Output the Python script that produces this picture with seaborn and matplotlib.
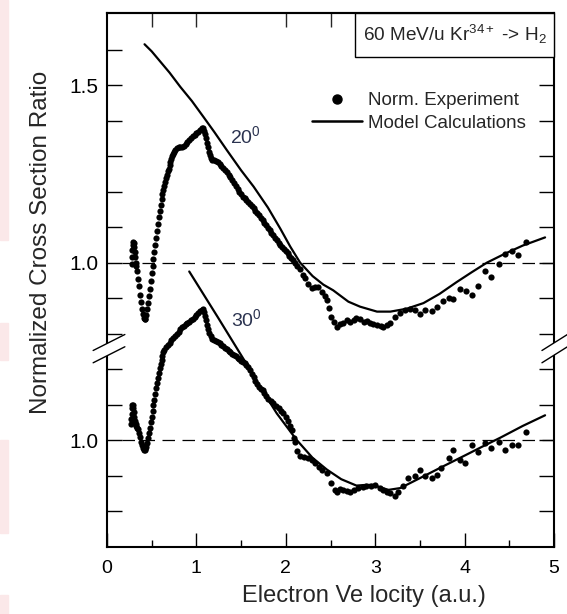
import numpy as np
import pandas as pd
import seaborn as sns
import matplotlib.pyplot as plt
from matplotlib.lines import Line2D
from matplotlib.patches import Rectangle, Polygon
import matplotlib.ticker as mticker

# 30 deg curves are drawn shifted down by this amount (broken axis)
OFFSET = 0.5

# --- experiment, 20 deg ---
exp20_x = [0.275, 0.28, 0.285, 0.29, 0.295, 0.30, 0.305, 0.31, 0.315, 0.32, 0.33, 0.34,
           0.35, 0.36, 0.37, 0.38, 0.39, 0.40, 0.41, 0.42, 0.43, 0.44, 0.45, 0.46,
           0.47, 0.48, 0.49, 0.50, 0.51, 0.52, 0.53, 0.54, 0.55, 0.56, 0.57, 0.58,
           0.59, 0.60, 0.61, 0.62, 0.63, 0.64, 0.65, 0.66, 0.67, 0.68, 0.69, 0.70,
           0.71, 0.72, 0.73, 0.74, 0.75, 0.76, 0.78, 0.80, 0.82, 0.84, 0.86, 0.88,
           0.90, 0.92, 0.94, 0.96, 0.98, 1.00, 1.02, 1.04, 1.06, 1.075, 1.09, 1.10,
           1.11, 1.12, 1.13, 1.14, 1.15, 1.165, 1.18, 1.20, 1.22, 1.24, 1.26, 1.28,
           1.30, 1.32, 1.34, 1.36, 1.38, 1.40, 1.42, 1.44, 1.46, 1.48, 1.50, 1.52,
           1.54, 1.56, 1.58, 1.60, 1.62, 1.64, 1.66, 1.68, 1.70, 1.72, 1.74, 1.76,
           1.78, 1.80, 1.82, 1.84, 1.86, 1.88, 1.90, 1.92, 1.94, 1.96, 1.98, 2.00,
           2.02, 2.04, 2.06, 2.08, 2.10, 2.13, 2.16, 2.19, 2.21, 2.25, 2.29, 2.33,
           2.36, 2.40, 2.44, 2.46, 2.48, 2.51, 2.54, 2.57, 2.61, 2.64, 2.68, 2.72,
           2.76, 2.79, 2.83, 2.87, 2.91, 2.94, 2.98, 3.02, 3.06, 3.09, 3.13, 3.17,
           3.22, 3.28, 3.33, 3.39, 3.45, 3.50, 3.56, 3.63, 3.69, 3.76, 3.82, 3.87,
           3.95, 4.02, 4.08, 4.15, 4.23, 4.30, 4.38, 4.45, 4.53, 4.60, 4.69]
exp20_y = [0.995, 1.015, 1.035, 1.050, 1.058, 1.055, 1.045, 1.030, 1.015, 1.000, 0.990, 0.975,
           0.955, 0.935, 0.910, 0.890, 0.870, 0.855, 0.845, 0.840, 0.842, 0.852, 0.868, 0.885,
           0.905, 0.925, 0.948, 0.970, 0.990, 1.010, 1.030, 1.050, 1.070, 1.090, 1.110, 1.128,
           1.146, 1.163, 1.178, 1.192, 1.205, 1.217, 1.228, 1.238, 1.248, 1.257, 1.265, 1.274,
           1.283, 1.291, 1.299, 1.306, 1.312, 1.318, 1.323, 1.326, 1.327, 1.326, 1.328, 1.334,
           1.339, 1.344, 1.350, 1.356, 1.360, 1.364, 1.368, 1.373, 1.378, 1.380, 1.372, 1.362,
           1.350, 1.338, 1.325, 1.312, 1.302, 1.295, 1.290, 1.288, 1.285, 1.282, 1.278, 1.272,
           1.266, 1.260, 1.254, 1.247, 1.240, 1.232, 1.224, 1.215, 1.206, 1.198, 1.192, 1.186,
           1.181, 1.176, 1.171, 1.166, 1.160, 1.153, 1.146, 1.140, 1.133, 1.126, 1.119, 1.112,
           1.105, 1.098, 1.091, 1.084, 1.077, 1.070, 1.063, 1.056, 1.050, 1.044, 1.038, 1.032,
           1.026, 1.020, 1.013, 1.006, 0.998, 0.990, 0.982, 0.965, 0.956, 0.940, 0.928, 0.932,
           0.930, 0.918, 0.905, 0.895, 0.872, 0.848, 0.832, 0.820, 0.828, 0.830, 0.838, 0.834,
           0.838, 0.843, 0.840, 0.834, 0.835, 0.830, 0.828, 0.825, 0.822, 0.820, 0.825, 0.830,
           0.848, 0.857, 0.867, 0.869, 0.867, 0.855, 0.867, 0.865, 0.874, 0.893, 0.900, 0.898,
           0.925, 0.920, 0.909, 0.934, 0.975, 0.959, 0.996, 1.024, 1.034, 1.022, 1.057]

# --- experiment, 30 deg (true values) ---
exp30_x = [0.265, 0.27, 0.275, 0.28, 0.285, 0.29, 0.295, 0.30, 0.305, 0.31, 0.32, 0.33,
           0.34, 0.35, 0.36, 0.37, 0.38, 0.39, 0.40, 0.41, 0.42, 0.43, 0.44, 0.45,
           0.46, 0.47, 0.48, 0.49, 0.50, 0.51, 0.52, 0.53, 0.54, 0.55, 0.56, 0.57,
           0.58, 0.59, 0.60, 0.61, 0.62, 0.63, 0.64, 0.66, 0.68, 0.70, 0.72, 0.74,
           0.76, 0.78, 0.80, 0.82, 0.84, 0.86, 0.88, 0.90, 0.92, 0.94, 0.96, 0.98,
           1.00, 1.02, 1.04, 1.06, 1.075, 1.09, 1.10, 1.11, 1.12, 1.13, 1.14, 1.16,
           1.18, 1.20, 1.22, 1.24, 1.26, 1.28, 1.30, 1.32, 1.34, 1.36, 1.38, 1.40,
           1.42, 1.44, 1.46, 1.48, 1.50, 1.52, 1.54, 1.56, 1.58, 1.60, 1.62, 1.64,
           1.66, 1.68, 1.70, 1.72, 1.74, 1.76, 1.78, 1.80, 1.83, 1.86, 1.89, 1.92,
           1.95, 1.97, 2.00, 2.03, 2.05, 2.07, 2.09, 2.10, 2.13, 2.16, 2.20, 2.25,
           2.29, 2.33, 2.37, 2.40, 2.46, 2.51, 2.55, 2.57, 2.61, 2.64, 2.68, 2.72,
           2.76, 2.81, 2.86, 2.90, 2.95, 3.00, 3.05, 3.09, 3.13, 3.17, 3.22, 3.26,
           3.31, 3.37, 3.45, 3.50, 3.56, 3.63, 3.69, 3.74, 3.82, 3.87, 3.95, 4.00,
           4.08, 4.15, 4.23, 4.30, 4.38, 4.45, 4.53, 4.60, 4.69]
exp30_y = [1.045, 1.060, 1.075, 1.090, 1.100, 1.098, 1.090, 1.080, 1.065, 1.055, 1.045, 1.040,
           1.035, 1.030, 1.020, 1.008, 0.995, 0.985, 0.977, 0.973, 0.972, 0.974, 0.982, 0.993,
           1.005, 1.020, 1.035, 1.050, 1.066, 1.082, 1.098, 1.114, 1.130, 1.146, 1.162, 1.176,
           1.190, 1.203, 1.215, 1.227, 1.238, 1.248, 1.255, 1.262, 1.268, 1.275, 1.281, 1.287,
           1.293, 1.299, 1.305, 1.312, 1.318, 1.322, 1.326, 1.330, 1.333, 1.337, 1.342, 1.347,
           1.352, 1.358, 1.363, 1.367, 1.368, 1.360, 1.350, 1.338, 1.325, 1.313, 1.302, 1.293,
           1.286, 1.282, 1.280, 1.277, 1.273, 1.268, 1.264, 1.260, 1.256, 1.252, 1.248, 1.244,
           1.240, 1.236, 1.232, 1.228, 1.224, 1.221, 1.217, 1.212, 1.205, 1.197, 1.187, 1.177,
           1.166, 1.157, 1.150, 1.145, 1.140, 1.132, 1.123, 1.117, 1.110, 1.104, 1.097, 1.090,
           1.082, 1.076, 1.065, 1.053, 1.040, 1.029, 1.005, 0.995, 0.970, 0.954, 0.952, 0.950,
           0.944, 0.936, 0.925, 0.917, 0.907, 0.879, 0.860, 0.855, 0.862, 0.860, 0.858, 0.855,
           0.860, 0.864, 0.868, 0.870, 0.872, 0.874, 0.866, 0.860, 0.855, 0.850, 0.842, 0.855,
           0.872, 0.893, 0.898, 0.915, 0.898, 0.893, 0.902, 0.921, 0.950, 0.973, 0.945, 0.937,
           0.987, 0.968, 0.993, 0.979, 0.996, 0.971, 0.987, 0.987, 1.024]

# --- model calculations ---
mod20_x = [0.42, 0.50, 0.60, 0.70, 0.82, 0.95, 1.08, 1.20, 1.34, 1.50, 1.64, 1.80,
           1.94, 2.05, 2.16, 2.30, 2.42, 2.53, 2.70, 2.83, 3.02, 3.17, 3.35, 3.54,
           3.72, 3.91, 4.08, 4.25, 4.45, 4.65, 4.90]
mod20_y = [1.615, 1.595, 1.565, 1.535, 1.495, 1.455, 1.410, 1.368, 1.317, 1.260, 1.214, 1.155,
           1.095, 1.045, 1.000, 0.962, 0.938, 0.922, 0.890, 0.876, 0.862, 0.862, 0.870, 0.886,
           0.912, 0.945, 0.973, 1.000, 1.025, 1.048, 1.071]
mod30_x = [0.92, 1.24, 1.56, 1.71, 1.90, 2.12, 2.30, 2.46, 2.62, 2.79, 2.90, 2.98,
           3.08, 3.15, 3.28, 3.50, 3.75, 4.02, 4.20, 4.40, 4.65, 4.90]
mod30_y = [1.475, 1.346, 1.215, 1.151, 1.075, 1.001, 0.950, 0.917, 0.890, 0.872, 0.874, 0.874,
           0.865, 0.860, 0.865, 0.893, 0.925, 0.959, 0.982, 1.007, 1.040, 1.070]

# dashed reference lines at ratio 1.0 for both panels
ref_x = [0.17, 5.0]
ref_levels = [1.0, 1.0 - OFFSET]

ytick_pos = [0.3, 0.4, 0.5, 0.6, 0.7, 0.8, 0.9, 1.0, 1.1, 1.2, 1.3, 1.4, 1.5, 1.6]
ytick_lab = {0.5: "1.0", 1.0: "1.0", 1.5: "1.5"}

exp = pd.concat([
    pd.DataFrame({"v": exp20_x, "r": exp20_y, "angle": "20"}),
    pd.DataFrame({"v": exp30_x, "r": np.array(exp30_y) - OFFSET, "angle": "30"}),
])
mod20 = pd.DataFrame({"v": mod20_x, "r": mod20_y})
mod30 = pd.DataFrame({"v": mod30_x, "r": np.array(mod30_y) - OFFSET})

sns.set_theme(style="ticks")
plt.rcParams["font.family"] = ["Liberation Sans", "DejaVu Sans"]
plt.rcParams["mathtext.fontset"] = "custom"
plt.rcParams["mathtext.rm"] = "Liberation Sans"
plt.rcParams["mathtext.it"] = "Liberation Sans:italic"

fig = plt.figure(figsize=(5.67, 6.14), dpi=100)
ax = fig.add_axes([0.1887, 0.1091, 0.7884, 0.8697])

# faint pink strips at the left edge of the scan
for top, bot in [(0, 240), (323, 360), (440, 533), (595, 614)]:
    fig.patches.append(Rectangle((0, 1 - bot / 614), 8 / 567, (bot - top) / 614,
                                 transform=fig.transFigure, color="#fbe8e9", zorder=0))

for lvl in ref_levels:
    ax.plot(ref_x, [lvl, lvl], color="black", lw=0.9, ls=(0, (10, 6)), zorder=1)

sns.lineplot(data=mod20, x="v", y="r", color="black", lw=1.6, ax=ax, estimator=None)
sns.lineplot(data=mod30, x="v", y="r", color="black", lw=1.6, ax=ax, estimator=None)
sns.scatterplot(data=exp, x="v", y="r", color="black", s=20, linewidth=0, ax=ax,
                legend=False, zorder=3)

ax.set_xlim(0, 5)
ax.set_ylim(0.199, 1.703)
ax.xaxis.set_major_locator(mticker.MultipleLocator(1))
ax.xaxis.set_minor_locator(mticker.MultipleLocator(0.5))
ax.yaxis.set_major_locator(mticker.FixedLocator(ytick_pos))
ax.yaxis.set_major_formatter(mticker.FuncFormatter(
    lambda v, p: ytick_lab.get(round(v, 1), "")))

ax.tick_params(axis="both", which="both", direction="in", colors="black", width=1.0)
ax.tick_params(axis="x", which="major", length=10, pad=9, labelsize=14)
ax.tick_params(axis="x", which="minor", length=5)
ax.tick_params(axis="y", length=11, pad=6, labelsize=15, right=True)
for s in ax.spines.values():
    s.set_linewidth(1.5)
    s.set_color("black")

sec = ax.secondary_xaxis("top")
sec.set_xticks([0.5, 1, 2, 2.5])
sec.tick_params(direction="in", length=10, width=1.0, labeltop=False)
sec.spines["top"].set_linewidth(1.5)

ax.set_xlabel("Electron Ve locity (a.u.)", fontsize=17)
ax.set_ylabel("Normalized Cross Section Ratio", fontsize=17.5)
ax.xaxis.set_label_coords(0.574, -0.072)
ax.yaxis.set_label_coords(-0.123, 0.57)

ax.text(1.376, 1.338, "20$^{0}$", fontsize=14, color="#2b3350")
ax.text(1.39, 0.822, "30$^{0}$", fontsize=14, color="#2b3350")

# title box in the upper right corner
ax.add_patch(Rectangle((0.555, 0.918), 0.445, 0.082, transform=ax.transAxes,
                       facecolor="white", edgecolor="black", lw=1.0, zorder=5,
                       clip_on=False))
ax.text(0.779, 0.959, "60 MeV/u Kr$^{34+}$ -> H$_{2}$", transform=ax.transAxes,
        ha="center", va="center", fontsize=13.7, zorder=6)

handles = [Line2D([], [], marker="o", ls="none", color="black", ms=6.5),
           Line2D([], [], color="black", lw=1.8)]
ax.legend(handles, ["Norm. Experiment", "Model Calculations"], loc="upper left",
          bbox_to_anchor=(0.458, 0.852), frameon=False, fontsize=13.5,
          handlelength=2.7, handletextpad=0.3, labelspacing=0.3,
          borderpad=0, borderaxespad=0)

# axis break marks on both sides
for x0, x1 in [(-0.031, 0.040), (0.973, 1.03)]:
    lo = (0.345, 0.375)
    hi = (0.368, 0.398)
    ax.add_patch(Polygon([(x0, lo[0]), (x1, lo[1]), (x1, hi[1]), (x0, hi[0])],
                         closed=True, transform=ax.transAxes, facecolor="white",
                         edgecolor="none", zorder=6, clip_on=False))
    for y0, y1 in [lo, hi]:
        ax.add_line(Line2D([x0, x1], [y0, y1], transform=ax.transAxes, color="black",
                           lw=1.0, zorder=7, clip_on=False))

fig.savefig("out.png", dpi=100)
